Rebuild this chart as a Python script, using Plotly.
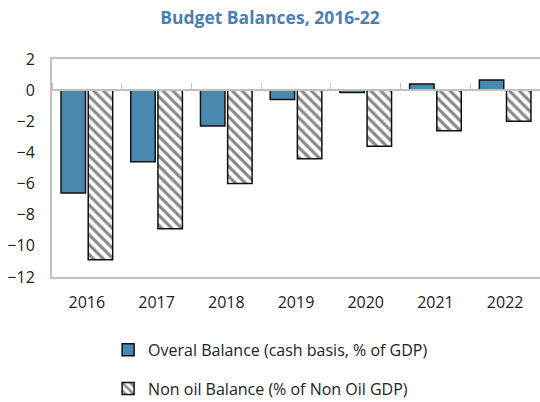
import plotly.graph_objects as go

years = ["2016", "2017", "2018", "2019", "2020", "2021", "2022"]
overall = [-6.6, -4.6, -2.3, -0.6, -0.15, 0.4, 0.65]
non_oil = [-10.9, -8.9, -6.0, -4.4, -3.6, -2.6, -2.0]

font_family = "Open Sans, Noto Sans, sans-serif"

fig = go.Figure()
fig.add_trace(go.Bar(
    x=years, y=overall, name="Overal Balance (cash basis, % of GDP)",
    marker=dict(color="#4a89ae", line=dict(color="#111111", width=1.5)),
    legendgroup="a",
))
fig.add_trace(go.Bar(
    x=years, y=non_oil, name="Non oil Balance (% of Non Oil GDP)",
    marker=dict(color="white", line=dict(color="#111111", width=1.5),
                pattern=dict(shape="\\", fgcolor="#111111", bgcolor="white",
                             size=7, solidity=0.45)),
    legendgroup="b",
))
# invisible trace to draw zero line with boundary ticks
fig.add_trace(go.Scatter(x=years, y=[0]*len(years), xaxis="x2", mode="markers",
                         marker=dict(opacity=0), showlegend=False, hoverinfo="skip"))

ymin, ymax = -12, 2
zero_pos = (0 - ymin) / (ymax - ymin)

fig.update_layout(
    width=540, height=402,
    margin=dict(l=52, r=0, t=59, b=125),
    paper_bgcolor="white", plot_bgcolor="white",
    barmode="group", bargap=0.22, bargroupgap=0.1,
    title=dict(text="<b>Budget Balances, 2016-22</b>", x=0.5, xref="container",
               xanchor="center", y=0.955, yanchor="middle",
               font=dict(family=font_family, size=17.5, color="#4a7fb0")),
    font=dict(family=font_family, size=16, color="#222222"),
    xaxis=dict(showline=True, linecolor="#c0c0c0", linewidth=2, mirror=True,
               ticks="", showgrid=False, tickfont=dict(size=16),
               ticklabelstandoff=10),
    xaxis2=dict(overlaying="x", anchor="free", position=zero_pos, side="top",
                matches="x", showline=True, linecolor="#c0c0c0", linewidth=1.5,
                ticks="outside", tickson="boundaries", ticklen=6,
                tickcolor="#c0c0c0", showticklabels=False, showgrid=False),
    yaxis=dict(range=[ymin, ymax], dtick=2, showline=True, linecolor="#c0c0c0",
               linewidth=2, showgrid=False, zeroline=False, ticks="",
               ticklabelstandoff=12, tickfont=dict(size=16)),
    legend=dict(x=0.115, xref="paper", y=0.172, yref="container",
                xanchor="left", yanchor="top",
                orientation="v", tracegroupgap=15,
                font=dict(size=16, color="#222222"), itemwidth=30),
    showlegend=True,
)

fig.write_html("out.html")
